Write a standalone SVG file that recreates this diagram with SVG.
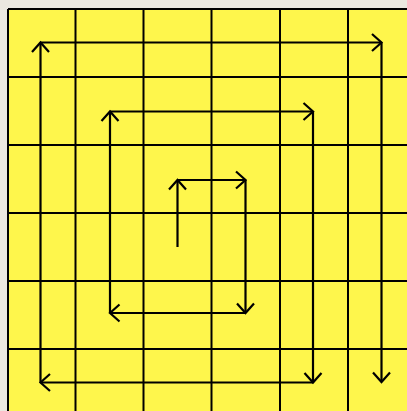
<svg xmlns="http://www.w3.org/2000/svg" width="407" height="411" viewBox="0 0 407 411">
<defs>
<style>
.grid{stroke:#000;stroke-width:2;fill:none}
.arr{stroke:#000;stroke-width:2.2;fill:none;marker-end:url(#ah)}
</style>
<marker id="ah" markerUnits="userSpaceOnUse" markerWidth="24" markerHeight="24" refX="12" refY="12" orient="auto" viewBox="0 0 24 24">
<path d="M2.5,3.5 L12,12 L2.5,20.5" fill="none" stroke="#000" stroke-width="2.2"/>
</marker>
</defs>
<rect width="407" height="411" fill="#ebe8e0"/>
<g id="board">
<rect x="8" y="9" width="420" height="420" fill="#fef64c"/>
<path class="grid" d="M8,9V420M75.5,9V420M143.5,9V420M211.5,9V420M280,9V420M348,9V420M8,9H420M8,77H420M8,145H420M8,213H420M8,281H420M8,349H420"/>
</g>
<g id="connectors">
<path class="arr" d="M177.5,247V180"/>
<path class="arr" d="M177.5,180H245.5"/>
<path class="arr" d="M245.5,180V313"/>
<path class="arr" d="M245.5,313H110"/>
<path class="arr" d="M110,313V111.5"/>
<path class="arr" d="M110,111.5H313"/>
<path class="arr" d="M313,111.5V382.5"/>
<path class="arr" d="M313,382.5H40.5"/>
<path class="arr" d="M40.5,382.5V42.5"/>
<path class="arr" d="M40.5,42.5H381.5"/>
<path class="arr" d="M381.5,42.5V382"/>
</g>
</svg>
